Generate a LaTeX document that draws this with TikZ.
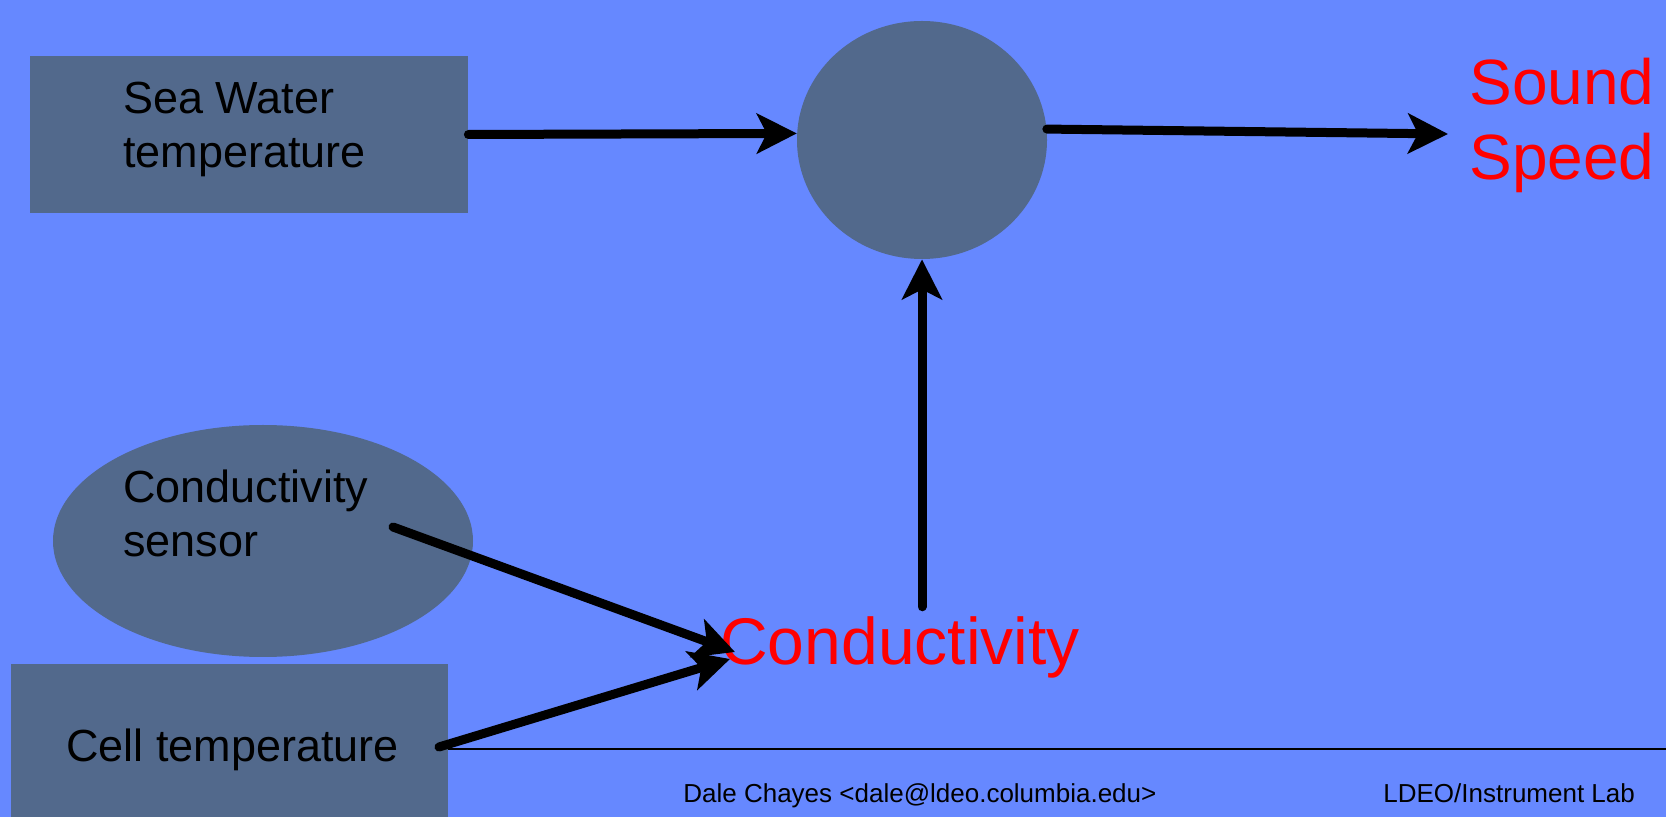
\documentclass[tikz,border=0pt]{standalone}
\usepackage{fontspec}
\setmainfont{Liberation Sans}
\usetikzlibrary{arrows.meta,calc,shapes.geometric}
\definecolor{slideblue}{HTML}{6688FF}
\definecolor{panelfill}{HTML}{52698C}
\definecolor{resultred}{HTML}{FF0000}

\begin{document}
\begin{tikzpicture}[
  x=0.5pt, y=-0.5pt,
  panel/.style={fill=panelfill, draw=none, inner sep=0pt},
  label/.style={font=\fontsize{22.5pt}{27pt}\selectfont, text=black, align=left, inner sep=0pt},
  result/.style={font=\fontsize{32pt}{37.5pt}\selectfont, text=resultred, align=left, inner sep=0pt},
  footer/.style={font=\fontsize{13pt}{15pt}\selectfont, text=black, inner sep=0pt, anchor=base west},
  flow/.style={-{Stealth[length=20pt, width=20pt, inset=5pt]}, draw=black, line width=4.5pt, line cap=round},
  rule/.style={draw=black, line width=1.2pt}
]
\useasboundingbox (0,0) rectangle (1666,817);
\fill[slideblue] (0,0) rectangle (1666,817);

% ---------------------------------------------------------------------------
% inputs
% ---------------------------------------------------------------------------
\node[panel, minimum width=219pt, minimum height=78.5pt] (seabox) at (249,134.5) {};
\node[label, anchor=north west] (seatext) at (123,82) {Sea Water\\temperature};

\node[panel, ellipse, minimum width=210pt, minimum height=116pt] (sensor) at (263,541) {};
\node[label, anchor=north west] (sensortext) at (123,469) {Conductivity\\sensor};

\draw[rule] (448,749) -- (1666,749);
\node[panel, minimum width=218.5pt, minimum height=78pt] (cellbox) at (229.5,742) {};
\node[label, anchor=base west] (celltext) at (66,762) {Cell temperature};

% ---------------------------------------------------------------------------
% combination and results
% ---------------------------------------------------------------------------
\node[panel, ellipse, minimum width=125pt, minimum height=119pt] (circ) at (922,140) {};
\node[result, anchor=north west] (speed) at (1469,58) {Sound\\Speed};
\node[result, font=\fontsize{33pt}{38pt}\selectfont, anchor=base, inner sep=5pt] (cond) at (900,665) {Conductivity};

\coordinate (sensorout) at (393,527);
\coordinate (cellout) at (439,747);
\coordinate (condtop) at (735,652);
\coordinate (condlow) at (730,659);
\coordinate (speedin) at (1448,134);

\draw[flow] (seabox.east) -- (circ.177);
\draw[flow] (circ.5) -- (speedin);
\draw[flow] (sensorout) -- (condtop);
\draw[flow] (cellout) -- (condlow);
\draw[flow] (circ.south |- cond.north) -- (circ.south);

% ---------------------------------------------------------------------------
% footer
% ---------------------------------------------------------------------------
\node[footer] (author) at (683,802) {Dale Chayes <dale@ldeo.columbia.edu>};
\node[footer] (lab) at (1383,802) {LDEO/Instrument Lab};

\end{tikzpicture}
\end{document}
